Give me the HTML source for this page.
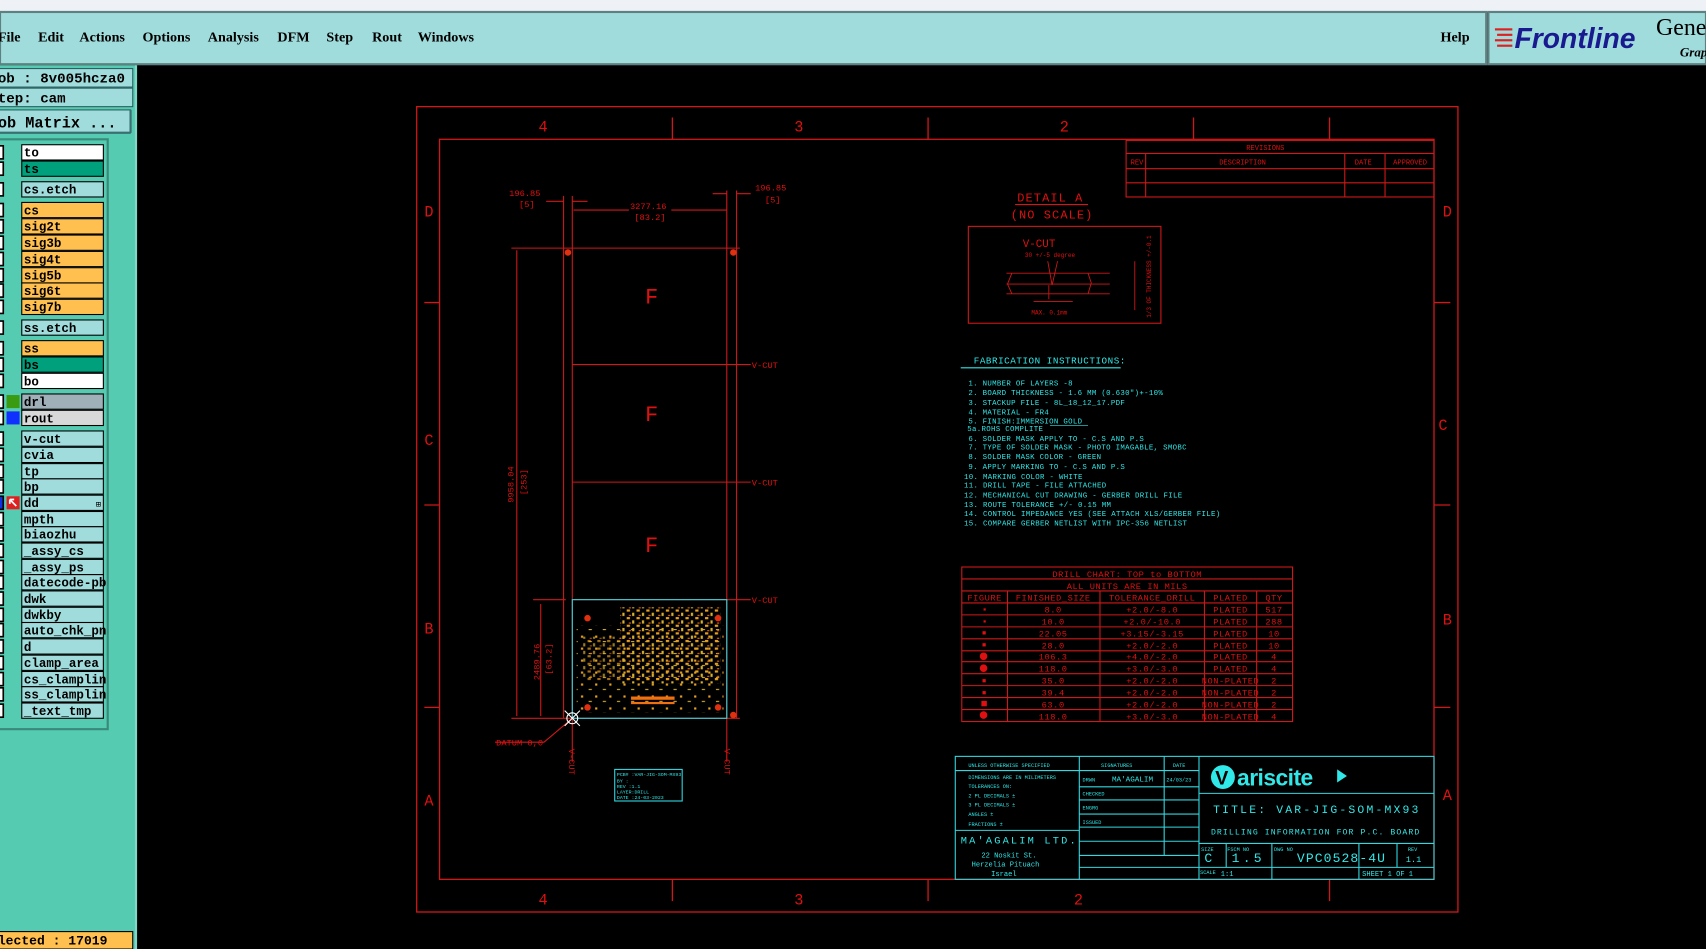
<!DOCTYPE html>
<html><head><meta charset="utf-8"><style>
html,body{margin:0;padding:0;background:#000;width:1706px;height:949px;overflow:hidden}
svg{display:block}
.m{font-family:"Liberation Serif",serif;font-weight:bold;font-size:13px;fill:#000}
.p{font-family:"Liberation Mono",monospace;font-weight:bold;font-size:13px;fill:#000}
.l{font-family:"Liberation Mono",monospace;font-weight:bold;font-size:11.5px;fill:#000}
.r{font-family:"Liberation Mono",monospace;fill:#e01010}
.c{font-family:"Liberation Mono",monospace;fill:#30e8e8}
</style></head><body>
<svg width="1706" height="949" viewBox="0 0 1568 872" preserveAspectRatio="none" xmlns="http://www.w3.org/2000/svg">
<defs>
<pattern id="pd" width="9" height="7" patternUnits="userSpaceOnUse">
<rect x="0" y="0" width="3" height="2" fill="#e8a020"/><rect x="5" y="3" width="2" height="3" fill="#d8b030"/><rect x="2" y="5" width="2" height="1" fill="#f07010"/>
</pattern>
<pattern id="ps" width="13" height="11" patternUnits="userSpaceOnUse">
<rect x="1" y="1" width="2" height="2" fill="#e8a020"/><rect x="8" y="6" width="3" height="1" fill="#d8b030"/>
</pattern>
</defs>
<rect width="1568" height="872" fill="#000"/>
<rect x="0" y="0" width="1568" height="11" fill="#eef2f6"/>
<rect x="0" y="11" width="1366" height="48" fill="#a0dcdc" stroke="#5f8080" stroke-width="2"/>
<rect x="1368" y="11" width="200" height="48" fill="#a0dcdc" stroke="#5f8080" stroke-width="2"/>
<text class="m" x="-2" y="38">File</text><text class="m" x="35" y="38">Edit</text><text class="m" x="73" y="38">Actions</text><text class="m" x="131" y="38">Options</text><text class="m" x="191" y="38">Analysis</text><text class="m" x="255" y="38">DFM</text><text class="m" x="300" y="38">Step</text><text class="m" x="342" y="38">Rout</text><text class="m" x="384" y="38">Windows</text><text class="m" x="1324" y="38">Help</text>
<g fill="#e02020"><rect x="1374" y="26" width="16" height="2"/><rect x="1376" y="31" width="14" height="2"/><rect x="1374" y="36" width="16" height="2"/><rect x="1376" y="41" width="14" height="2"/></g>
<text x="1392" y="44" font-family="Liberation Sans,sans-serif" font-weight="bold" font-style="italic" font-size="26" fill="#1a1a90">Frontline</text>
<text x="1522" y="32" font-family="Liberation Serif,serif" font-size="22" fill="#000">Gene</text>
<text x="1544" y="52" font-family="Liberation Serif,serif" font-style="italic" font-weight="bold" font-size="12" fill="#000">Grap</text>
<rect x="0" y="60" width="125" height="812" fill="#55ccb2"/>
<line x1="125" y1="60" x2="125" y2="872" stroke="#7fd8c8" stroke-width="2"/>
<rect x="-1" y="63" width="123" height="17" fill="#a0dcdc" stroke="#2a6060"/>
<text class="p" x="-2" y="76">ob : 8v005hcza0</text>
<rect x="-1" y="81" width="123" height="17" fill="#a0dcdc" stroke="#2a6060"/>
<text class="p" x="-2" y="94">tep: cam</text>
<rect x="-1" y="101" width="121" height="21" fill="#a0dcdc" stroke="#2a6060"/>
<line x1="120" y1="101" x2="120" y2="122" stroke="#3a7070" stroke-width="2"/><line x1="0" y1="122" x2="120" y2="122" stroke="#3a7070" stroke-width="2"/>
<text class="p" x="-2" y="117" style="font-size:14px">ob Matrix ...</text>
<rect x="-1" y="128" width="100" height="542" fill="#55ccb2" stroke="#3a8a7a" stroke-width="2"/>
<g stroke="#000" stroke-width="1">
<rect x="20" y="133" width="75" height="14" fill="#ffffff"/><rect x="20" y="148" width="75" height="14" fill="#00a07c"/>
<rect x="20" y="167" width="75" height="14" fill="#a0dcdc"/>
<rect x="20" y="186" width="75" height="14" fill="#ffc050"/><rect x="20" y="201" width="75" height="14" fill="#ffc050"/><rect x="20" y="216" width="75" height="14" fill="#ffc050"/><rect x="20" y="231" width="75" height="14" fill="#ffc050"/><rect x="20" y="246" width="75" height="14" fill="#ffc050"/><rect x="20" y="260" width="75" height="14" fill="#ffc050"/><rect x="20" y="275" width="75" height="14" fill="#ffc050"/>
<rect x="20" y="294" width="75" height="14" fill="#a0dcdc"/>
<rect x="20" y="313" width="75" height="14" fill="#ffc050"/><rect x="20" y="328" width="75" height="14" fill="#00a07c"/><rect x="20" y="343" width="75" height="14" fill="#ffffff"/>
<rect x="20" y="362" width="75" height="14" fill="#a0b0b8"/><rect x="20" y="377" width="75" height="14" fill="#d8d8d8"/>
<rect x="20" y="396" width="75" height="14" fill="#a0dcdc"/><rect x="20" y="411" width="75" height="14" fill="#a0dcdc"/><rect x="20" y="426" width="75" height="14" fill="#a0dcdc"/><rect x="20" y="440" width="75" height="14" fill="#a0dcdc"/><rect x="20" y="455" width="75" height="14" fill="#a0dcdc"/><rect x="20" y="470" width="75" height="14" fill="#a0dcdc"/><rect x="20" y="484" width="75" height="14" fill="#a0dcdc"/><rect x="20" y="499" width="75" height="14" fill="#a0dcdc"/><rect x="20" y="514" width="75" height="14" fill="#a0dcdc"/><rect x="20" y="528" width="75" height="14" fill="#a0dcdc"/><rect x="20" y="543" width="75" height="14" fill="#a0dcdc"/><rect x="20" y="558" width="75" height="14" fill="#a0dcdc"/><rect x="20" y="572" width="75" height="14" fill="#a0dcdc"/><rect x="20" y="587" width="75" height="14" fill="#a0dcdc"/><rect x="20" y="602" width="75" height="14" fill="#a0dcdc"/><rect x="20" y="617" width="75" height="14" fill="#a0dcdc"/><rect x="20" y="631" width="75" height="14" fill="#a0dcdc"/><rect x="20" y="646" width="75" height="14" fill="#a0dcdc"/>
</g>
<g fill="#fff" stroke="#000" stroke-width="1.5">
<rect x="-3" y="134" width="6" height="12"/><rect x="-3" y="149" width="6" height="12"/><rect x="-3" y="168" width="6" height="12"/><rect x="-3" y="187" width="6" height="12"/><rect x="-3" y="202" width="6" height="12"/><rect x="-3" y="217" width="6" height="12"/><rect x="-3" y="232" width="6" height="12"/><rect x="-3" y="247" width="6" height="12"/><rect x="-3" y="261" width="6" height="12"/><rect x="-3" y="276" width="6" height="12"/><rect x="-3" y="295" width="6" height="12"/><rect x="-3" y="314" width="6" height="12"/><rect x="-3" y="329" width="6" height="12"/><rect x="-3" y="344" width="6" height="12"/><rect x="-3" y="363" width="6" height="12"/><rect x="-3" y="378" width="6" height="12"/><rect x="-3" y="397" width="6" height="12"/><rect x="-3" y="412" width="6" height="12"/><rect x="-3" y="427" width="6" height="12"/><rect x="-3" y="441" width="6" height="12"/><rect x="-3" y="456" width="6" height="12" fill="#1030e0"/><rect x="-3" y="471" width="6" height="12"/><rect x="-3" y="485" width="6" height="12"/><rect x="-3" y="500" width="6" height="12"/><rect x="-3" y="515" width="6" height="12"/><rect x="-3" y="529" width="6" height="12"/><rect x="-3" y="544" width="6" height="12"/><rect x="-3" y="559" width="6" height="12"/><rect x="-3" y="573" width="6" height="12"/><rect x="-3" y="588" width="6" height="12"/><rect x="-3" y="603" width="6" height="12"/><rect x="-3" y="618" width="6" height="12"/><rect x="-3" y="632" width="6" height="12"/><rect x="-3" y="647" width="6" height="12"/>
</g>
<rect x="6" y="363" width="12" height="12" fill="#3a9a10"/><rect x="6" y="378" width="12" height="12" fill="#1030ff"/>
<rect x="6" y="456" width="12" height="12" fill="#e02020"/><path d="M9 459 L15 465 M9 459 L9 463 M9 459 L13 459" stroke="#fff" stroke-width="1.6"/>
<g>
<text class="l" x="22" y="144">to</text><text class="l" x="22" y="159">ts</text><text class="l" x="22" y="178">cs.etch</text><text class="l" x="22" y="197">cs</text><text class="l" x="22" y="212">sig2t</text><text class="l" x="22" y="227">sig3b</text><text class="l" x="22" y="242">sig4t</text><text class="l" x="22" y="257">sig5b</text><text class="l" x="22" y="271">sig6t</text><text class="l" x="22" y="286">sig7b</text><text class="l" x="22" y="305">ss.etch</text><text class="l" x="22" y="324">ss</text><text class="l" x="22" y="339">bs</text><text class="l" x="22" y="354">bo</text><text class="l" x="22" y="373">drl</text><text class="l" x="22" y="388">rout</text><text class="l" x="22" y="407">v-cut</text><text class="l" x="22" y="422">cvia</text><text class="l" x="22" y="437">tp</text><text class="l" x="22" y="451">bp</text><text class="l" x="22" y="466">dd</text><text class="l" x="22" y="481">mpth</text><text class="l" x="22" y="495">biaozhu</text><text class="l" x="22" y="510">_assy_cs</text><text class="l" x="22" y="525">_assy_ps</text><text class="l" x="22" y="539">datecode-pb</text><text class="l" x="22" y="554">dwk</text><text class="l" x="22" y="569">dwkby</text><text class="l" x="22" y="583">auto_chk_pn</text><text class="l" x="22" y="598">d</text><text class="l" x="22" y="613">clamp_area</text><text class="l" x="22" y="628">cs_clamplin</text><text class="l" x="22" y="642">ss_clamplin</text><text class="l" x="22" y="657">_text_tmp</text>
</g>
<text x="88" y="466" font-size="8" font-family="Liberation Mono,monospace">⊞</text>
<rect x="-1" y="856" width="123" height="16" fill="#ffc050" stroke="#000"/>
<text class="p" x="-2" y="868" style="font-size:12px">lected : 17019</text>

<g fill="none" stroke="#d01818" stroke-width="1.2">
<rect x="383" y="98" width="957" height="740"/>
<rect x="404" y="128" width="914" height="680"/>
<path d="M618 108V128M853 108V128M1097 108V128M1222 108V128M618 808V828M853 808V828M1222 808V828M390 278H404M390 464H404M390 650H404M1318 278H1333M1318 464H1333M1318 650H1333"/>
</g>
<g class="r" font-size="14">
<text x="495" y="121">4</text><text x="730" y="121">3</text><text x="974" y="121">2</text>
<text x="495" y="831">4</text><text x="730" y="831">3</text><text x="987" y="831">2</text>
<text x="390" y="199">D</text><text x="390" y="409">C</text><text x="390" y="582">B</text><text x="390" y="740">A</text>
<text x="1326" y="199">D</text><text x="1322" y="395">C</text><text x="1326" y="574">B</text><text x="1326" y="735">A</text>
</g>
<g fill="none" stroke="#d01818" stroke-width="1">
<path d="M518 180V660M526 180V660M668 175V660M677 175V660"/>
<path d="M470 228H680M526 335H690M526 443H690M526 551H690M490 551H520M470 660H680"/>
<path d="M475 230V658M497 555V658M502 185H518M526 185H540M527 193H578M617 193H668M655 178H668M677 178H690"/>
<path d="M526 660L500 682H455M668 660V700M526 660V700"/>
</g>
<rect x="526" y="551" width="142" height="109" fill="none" stroke="#30d8e0" stroke-width="1"/>
<rect x="530" y="575" width="135" height="80" fill="url(#ps)"/>
<rect x="570" y="558" width="92" height="70" fill="url(#pd)"/>
<rect x="535" y="585" width="40" height="40" fill="url(#pd)" opacity="0.7"/>
<rect x="580" y="640" width="40" height="3" fill="#f07010"/><rect x="580" y="645" width="40" height="2" fill="#f07010"/>
<g fill="#e03010"><circle cx="540" cy="568" r="3"/><circle cx="660" cy="568" r="3"/><circle cx="540" cy="650" r="3"/><circle cx="660" cy="650" r="3"/><circle cx="522" cy="232" r="3"/><circle cx="674" cy="232" r="3"/><circle cx="674" cy="657" r="3"/></g>
<g stroke="#fff" stroke-width="1"><circle cx="526" cy="660" r="5" fill="none"/><path d="M519 653L533 667M533 653L519 667"/></g>
<g class="r" font-size="20"><text x="593" y="279">F</text><text x="593" y="387">F</text><text x="593" y="507">F</text></g>
<g class="r" font-size="8">
<text x="468" y="180">196.85</text><text x="477" y="190">[5]</text>
<text x="694" y="175">196.85</text><text x="703" y="186">[5]</text>
<text x="579" y="192">3277.16</text><text x="583" y="202">[83.2]</text>
<text x="691" y="338">V-CUT</text><text x="691" y="446">V-CUT</text><text x="691" y="554">V-CUT</text>
<text x="456" y="685">DATUM 0,0</text>
<text transform="translate(472,462) rotate(-90)">9958.04</text><text transform="translate(484,455) rotate(-90)">[253]</text>
<text transform="translate(496,625) rotate(-90)">2489.76</text><text transform="translate(507,620) rotate(-90)">[63.2]</text>
<text transform="translate(523,688) rotate(90)">V-CUT</text><text transform="translate(666,688) rotate(90)">V-CUT</text>
</g>
<rect x="565" y="707" width="62" height="29" fill="none" stroke="#30d8e0"/>
<g class="c" font-size="4.5"><text x="567" y="713">PCB# :VAR-JIG-SOM-MX93</text><text x="567" y="719">BY  :</text><text x="567" y="724">REV :1.1</text><text x="567" y="729">LAYER:DRILL</text><text x="567" y="734">DATE :24-03-2023</text></g>
<g class="r"><text x="935" y="185" font-size="11" letter-spacing="1">DETAIL A</text><text x="929" y="201" font-size="11" letter-spacing="1">(NO SCALE)</text></g>
<line x1="933" y1="188" x2="1000" y2="188" stroke="#d01818"/>
<rect x="890" y="208" width="177" height="89" fill="none" stroke="#d01818"/>
<g fill="none" stroke="#d01818" stroke-width="0.8"><path d="M925 251H1020M925 261H1020M925 270H1020M930 251L926 261L930 270M963 240L967 262L972 240M964 262V275M950 277H986M1043 240V285M1000 251L1003 260L1000 270"/></g>
<g class="r"><text x="940" y="227" font-size="10">V-CUT</text><text x="942" y="236" font-size="5.5">30 +/-5 degree</text><text x="948" y="289" font-size="5.5">MAX. 0.1mm</text>
<text transform="translate(1058,292) rotate(-90)" font-size="5.5">1/3 OF THICKNESS +/-0.1</text></g>
<text class="c" x="895" y="334" font-size="8.5" letter-spacing="0.5">FABRICATION INSTRUCTIONS:</text>
<line x1="883" y1="338" x2="1030" y2="338" stroke="#30e8e8"/>
<g class="c" font-size="6.8" letter-spacing="0.3">
<text x="890" y="354">1. NUMBER OF LAYERS -8</text>
<text x="890" y="363">2. BOARD THICKNESS - 1.6 MM (0.630")+-10%</text>
<text x="890" y="372">3. STACKUP FILE - 8L_18_12_17.PDF</text>
<text x="890" y="381">4. MATERIAL - FR4</text>
<text x="890" y="389">5. FINISH:IMMERSION GOLD</text>
<text x="889" y="396">5a.ROHS COMPLITE</text>
<text x="890" y="405">6. SOLDER MASK APPLY TO - C.S AND P.S</text>
<text x="890" y="413">7. TYPE OF SOLDER MASK - PHOTO IMAGABLE, SMOBC</text>
<text x="890" y="422">8. SOLDER MASK COLOR - GREEN</text>
<text x="890" y="431">9. APPLY MARKING TO - C.S AND P.S</text>
<text x="886" y="440">10. MARKING COLOR - WHITE</text>
<text x="886" y="448">11. DRILL TAPE - FILE ATTACHED</text>
<text x="886" y="457">12. MECHANICAL CUT DRAWING - GERBER DRILL FILE</text>
<text x="886" y="466">13. ROUTE TOLERANCE +/- 0.15 MM</text>
<text x="886" y="474">14. CONTROL IMPEDANCE YES (SEE ATTACH XLS/GERBER FILE)</text>
<text x="886" y="483">15. COMPARE GERBER NETLIST WITH IPC-356 NETLIST</text>
</g>
<line x1="965" y1="391" x2="1000" y2="391" stroke="#30e8e8" stroke-width="0.6"/>
<g fill="none" stroke="#d01818" stroke-width="1">
<rect x="884" y="521" width="304" height="142"/>
<path d="M884 532H1188M884 543H1188M884 554H1188M884 565H1188M884 576H1188M884 587H1188M884 598H1188M884 608H1188M884 619H1188M884 630H1188M884 641H1188M884 652H1188"/>
<path d="M926 543V663M1011 543V663M1107 543V663M1155 543V663"/>
</g>
<g class="r" font-size="8" text-anchor="middle" letter-spacing="0.5">
<text x="1036" y="530">DRILL CHART: TOP to BOTTOM</text><text x="1036" y="541">ALL UNITS ARE IN MILS</text>
<text x="905" y="552">FIGURE</text><text x="968" y="552">FINISHED_SIZE</text><text x="1059" y="552">TOLERANCE_DRILL</text><text x="1131" y="552">PLATED</text><text x="1171" y="552">QTY</text>
<text x="968" y="563">8.0</text><text x="1059" y="563">+2.0/-8.0</text><text x="1131" y="563">PLATED</text><text x="1171" y="563">517</text>
<text x="968" y="574">10.0</text><text x="1059" y="574">+2.0/-10.0</text><text x="1131" y="574">PLATED</text><text x="1171" y="574">288</text>
<text x="968" y="585">22.05</text><text x="1059" y="585">+3.15/-3.15</text><text x="1131" y="585">PLATED</text><text x="1171" y="585">10</text>
<text x="968" y="596">28.0</text><text x="1059" y="596">+2.0/-2.0</text><text x="1131" y="596">PLATED</text><text x="1171" y="596">10</text>
<text x="968" y="606">106.3</text><text x="1059" y="606">+4.0/-2.0</text><text x="1131" y="606">PLATED</text><text x="1171" y="606">4</text>
<text x="968" y="617">118.0</text><text x="1059" y="617">+3.0/-3.0</text><text x="1131" y="617">PLATED</text><text x="1171" y="617">4</text>
<text x="968" y="628">35.0</text><text x="1059" y="628">+2.0/-2.0</text><text x="1131" y="628">NON-PLATED</text><text x="1171" y="628">2</text>
<text x="968" y="639">39.4</text><text x="1059" y="639">+2.0/-2.0</text><text x="1131" y="639">NON-PLATED</text><text x="1171" y="639">2</text>
<text x="968" y="650">63.0</text><text x="1059" y="650">+2.0/-2.0</text><text x="1131" y="650">NON-PLATED</text><text x="1171" y="650">2</text>
<text x="968" y="661">118.0</text><text x="1059" y="661">+3.0/-3.0</text><text x="1131" y="661">NON-PLATED</text><text x="1171" y="661">4</text>
</g>
<g fill="#e01010"><rect x="904" y="559" width="2" height="2"/><rect x="904" y="570" width="2" height="2"/><rect x="903" y="580" width="3" height="3"/><rect x="903" y="591" width="3" height="3"/><circle cx="904" cy="603" r="3.5"/><circle cx="904" cy="614" r="3.5"/><rect x="903" y="624" width="3" height="3"/><rect x="903" y="635" width="3" height="3"/><rect x="902" y="644" width="5" height="5"/><circle cx="904" cy="657" r="3.5"/></g>
<g fill="none" stroke="#d01818"><rect x="1035" y="129" width="283" height="52"/><path d="M1035 141H1318M1035 155H1318M1035 168H1318M1053 141V181M1236 141V181M1273 141V181"/></g>
<g class="r" font-size="6.5" text-anchor="middle"><text x="1163" y="138">REVISIONS</text><text x="1045" y="151">REV</text><text x="1142" y="151">DESCRIPTION</text><text x="1253" y="151">DATE</text><text x="1296" y="151">APPROVED</text></g>
<g fill="none" stroke="#30d8e0" stroke-width="1">
<rect x="878" y="695" width="440" height="113"/>
<path d="M878 708H1102M992 695V808M1070 695V786M1102 695V808M878 763H992M992 723H1102M992 735H1102M992 748H1102M992 760H1102M992 773H1102M992 786H1102M992 797H1102M1102 729H1318M1102 775H1318M1102 797H1318M1127 775V797M1169 775V808M1249 775V808M1284 775V797"/>
</g>
<g class="c" font-size="4.8">
<text x="890" y="705">UNLESS OTHERWISE SPECIFIED</text><text x="1012" y="705">SIGNATURES</text><text x="1078" y="705">DATE</text>
<text x="890" y="716">DIMENSIONS ARE IN MILIMETERS</text><text x="890" y="724">TOLERANCES ON:</text><text x="890" y="733">2 PL DECIMALS ±</text><text x="890" y="741">3 PL DECIMALS ±</text><text x="890" y="750">ANGLES ±</text><text x="890" y="759">FRACTIONS ±</text>
<text x="995" y="718">DRWN</text><text x="1072" y="718">24/03/23</text><text x="995" y="731">CHECKED</text><text x="995" y="744">ENGRG</text><text x="995" y="757">ISSUED</text>
<text x="1104" y="782">SIZE</text><text x="1128" y="782">FSCM NO</text><text x="1171" y="782">DWG NO</text><text x="1294" y="782">REV</text><text x="1103" y="803">SCALE</text>
</g>
<g class="c"><text x="1022" y="718" font-size="7">MA'AGALIM</text>
<text x="883" y="775" font-size="9.5" letter-spacing="2">MA'AGALIM LTD.</text>
<text x="902" y="788" font-size="6.5">22 Noskit St.</text><text x="893" y="796" font-size="6.5">Herzelia Pituach</text><text x="911" y="805" font-size="6.5">Israel</text>
<text x="1115" y="747" font-size="10.5" letter-spacing="2">TITLE: VAR-JIG-SOM-MX93</text>
<text x="1113" y="767" font-size="7.5" letter-spacing="1">DRILLING INFORMATION FOR P.C. BOARD</text>
<text x="1107" y="792" font-size="12">C</text><text x="1132" y="792" font-size="12" letter-spacing="3">1.5</text><text x="1192" y="792" font-size="12" letter-spacing="1">VPC0528-4U</text><text x="1292" y="792" font-size="8">1.1</text>
<text x="1122" y="805" font-size="6.5">1:1</text><text x="1252" y="805" font-size="6.5">SHEET 1 OF 1</text>
<text x="1137" y="722" font-size="21" font-weight="bold" font-family="Liberation Sans,sans-serif" letter-spacing="-0.5">ariscite</text></g>
<circle cx="1124" cy="714" r="11" fill="#30e8e8"/><text x="1117" y="721" font-size="18" font-weight="bold" font-family="Liberation Sans,sans-serif" fill="#000">V</text>
<path d="M1229 707L1238 713L1229 719Z" fill="#30e8e8"/>
</svg>
</body></html>
